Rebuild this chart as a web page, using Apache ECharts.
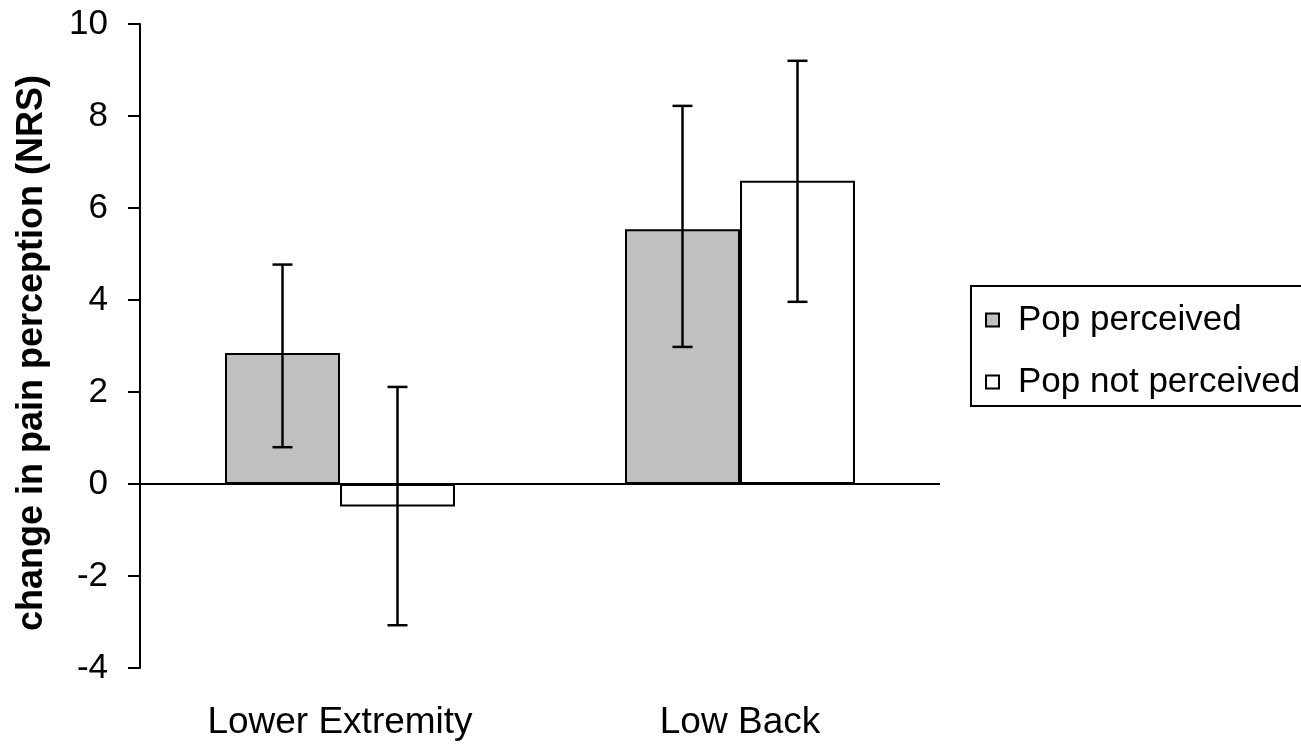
<!DOCTYPE html>
<html>
<head>
<meta charset="utf-8">
<script src="https://cdn.jsdelivr.net/npm/echarts@6/dist/echarts.min.js"></script>
<style>
    html, body { margin: 0; padding: 0; background: #fff; }
    #main { width: 1301px; height: 744px; }
</style>
</head>
<body>
<div id="main"></div>
<script>
// data
var categories = ["Lower Extremity", "Low Back"];
var seriesNames = ["Pop perceived", "Pop not perceived"];
var perceived = [2.85, 5.54];
var perceivedLow = [0.8, 2.98];
var perceivedHigh = [4.77, 8.22];
var notPerceived = [-0.49, 6.59];
var notPerceivedLow = [-3.07, 3.96];
var notPerceivedHigh = [2.11, 9.2];

var barCategoryGap = 0.425;

function errorData(low, high) {
    var out = [];
    for (var i = 0; i < low.length; i++) {
        out.push([i, low[i], high[i]]);
    }
    return out;
}

// error bar drawn at the centre of bar number "slot" (0 or 1)
function errorRenderer(slot) {
    return function (params, api) {
        var bandW = api.size([1, 0])[0];
        var barW = bandW * (1 - barCategoryGap) / 2;
        var offset = (slot === 0 ? -1 : 1) * barW / 2;
        var lo = api.coord([api.value(0), api.value(1)]);
        var hi = api.coord([api.value(0), api.value(2)]);
        var x = lo[0] + offset;
        var cap = 10;
        var style = { stroke: '#000', lineWidth: 2.5 };
        return {
            type: 'group',
            children: [
                { type: 'line', shape: { x1: x, y1: lo[1], x2: x, y2: hi[1] }, style: style },
                { type: 'line', shape: { x1: x - cap, y1: lo[1], x2: x + cap, y2: lo[1] }, style: style },
                { type: 'line', shape: { x1: x - cap, y1: hi[1], x2: x + cap, y2: hi[1] }, style: style }
            ]
        };
    };
}

var chart = echarts.init(document.getElementById('main'));

var option = {
    animation: false,
    backgroundColor: '#fff',
    grid: {
        left: 140,
        right: 361,
        top: 24,
        bottom: 76,
        outerBoundsMode: 'none'
    },
    legend: {
        left: 971,
        top: 286,
        orient: 'vertical',
        data: seriesNames,
        icon: 'rect',
        itemWidth: 13,
        itemHeight: 13,
        itemGap: 22,
        padding: [14, 60, 4, 14],
        borderColor: '#000',
        borderWidth: 2,
        backgroundColor: '#fff',
        textStyle: {
            fontFamily: 'Liberation Sans',
            fontSize: 35,
            color: '#000',
            lineHeight: 40,
            padding: [0, 0, 0, 14]
        }
    },
    xAxis: {
        type: 'category',
        data: categories,
        axisLine: { show: false },
        axisTick: { show: false },
        axisLabel: {
            margin: 36,
            fontFamily: 'Liberation Sans',
            fontSize: 37,
            color: '#000'
        }
    },
    yAxis: {
        type: 'value',
        min: -4,
        max: 10,
        interval: 2,
        name: 'change in pain perception (NRS)',
        nameLocation: 'middle',
        nameRotate: 90,
        nameGap: 90,
        nameTextStyle: {
            fontFamily: 'Liberation Sans',
            fontWeight: 'bold',
            fontSize: 36,
            color: '#000',
            padding: [0, 14, 0, 0]
        },
        axisLine: { show: true, lineStyle: { color: '#000', width: 2 } },
        axisTick: { show: true, length: 12, lineStyle: { color: '#000', width: 2 } },
        splitLine: { show: false },
        axisLabel: {
            margin: 32,
            fontFamily: 'Liberation Sans',
            fontSize: 35,
            color: '#000'
        }
    },
    series: [
        {
            name: seriesNames[0],
            type: 'bar',
            data: perceived,
            barGap: '0%',
            barCategoryGap: (barCategoryGap * 100) + '%',
            itemStyle: { color: '#c0c0c0', borderColor: '#000', borderWidth: 2 },
            markLine: {
                silent: true,
                symbol: 'none',
                label: { show: false },
                lineStyle: { color: '#000', width: 2, type: 'solid' },
                data: [{ yAxis: 0 }]
            }
        },
        {
            name: seriesNames[1],
            type: 'bar',
            data: notPerceived,
            itemStyle: { color: '#fff', borderColor: '#000', borderWidth: 2 }
        },
        {
            type: 'custom',
            renderItem: errorRenderer(0),
            data: errorData(perceivedLow, perceivedHigh),
            z: 10
        },
        {
            type: 'custom',
            renderItem: errorRenderer(1),
            data: errorData(notPerceivedLow, notPerceivedHigh),
            z: 10
        }
    ]
};

chart.setOption(option);
</script>
</body>
</html>
